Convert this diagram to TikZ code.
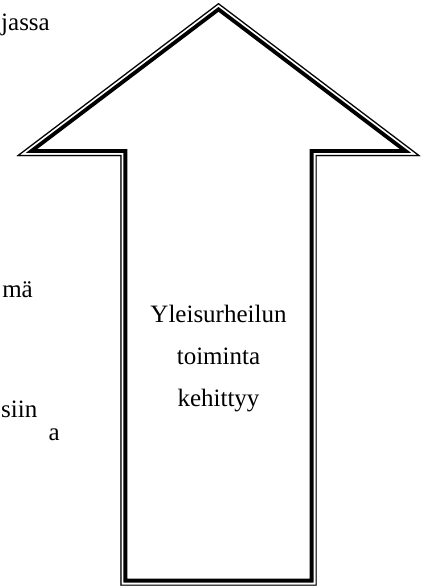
\documentclass[tikz,border=0pt]{standalone}
\usepackage{fontspec}
\setmainfont{Liberation Serif}
\begin{document}
\begin{tikzpicture}[x=1pt,y=-1pt,
  lbl/.style={font=\fontsize{25}{30}\selectfont, inner sep=0pt, anchor=base},
  side/.style={font=\fontsize{25}{30}\selectfont, inner sep=0pt, anchor=base east},
  outline/.style={line join=miter}]
\useasboundingbox[fill=white] (0,0) rectangle (424,587);
% outer boundary of the arrow
\coordinate (apex) at (218.5,3);
\coordinate (rt) at (420.5,156);
\coordinate (rs) at (316.7,156);
\coordinate (rb) at (316.7,585.7);
\coordinate (lb) at (120.3,585.7);
\coordinate (ls) at (120.3,156);
\coordinate (lt) at (16.5,156);
\begin{scope}
  \clip (apex) -- (rt) -- (rs) -- (rb) -- (lb) -- (ls) -- (lt) -- cycle;
  \draw[outline, line width=14pt, black] (apex) -- (rt) -- (rs) -- (rb) -- (lb) -- (ls) -- (lt) -- cycle;
  \draw[outline, line width=6pt, white] (apex) -- (rt) -- (rs) -- (rb) -- (lb) -- (ls) -- (lt) -- cycle;
  \draw[outline, line width=2.4pt, black] (apex) -- (rt) -- (rs) -- (rb) -- (lb) -- (ls) -- (lt) -- cycle;
\end{scope}
% centre text
\node[lbl] (t1) at (218.5,322) {Yleisurheilun};
\node[lbl] (t2) at (218.5,364) {toiminta};
\node[lbl] (t3) at (218.5,406) {kehittyy};
% clipped side texts
\begin{scope}
  \clip (0,0) rectangle (424,587);
  \node[side] (s1) at (50,30) {jassa};
  \node[side] (s2) at (33,297) {mä};
  \node[side] (s3) at (37.5,417) {siin};
  \node[side] (s4) at (60,440) {a};
\end{scope}
\end{tikzpicture}
\end{document}
